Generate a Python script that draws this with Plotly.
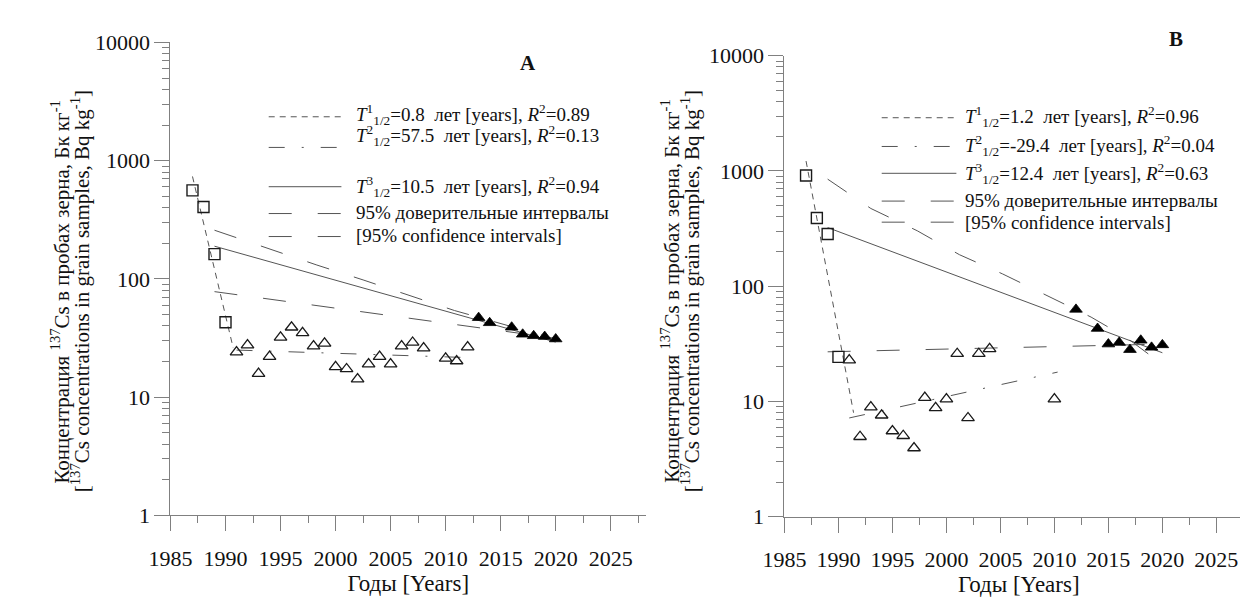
import plotly.graph_objects as go

W, H = 1248, 597

# ---------------- Panel A data ----------------
sq_years_A = [1987, 1988, 1989, 1990]
sq_vals_A = [560, 405, 162, 43]
open_years_A = [1991, 1992, 1993, 1994, 1995, 1996, 1997, 1998, 1999, 2000, 2001,
                2002, 2003, 2004, 2005, 2006, 2007, 2008, 2010, 2011, 2012]
open_vals_A = [24, 27.5, 15.8, 22, 32, 39, 35, 27, 28.5, 18, 17.3,
               14.2, 19, 22, 19, 27, 29, 26, 21.3, 20.2, 26.5]
filled_years_A = [2013, 2014, 2016, 2017, 2018, 2019, 2020]
filled_vals_A = [47, 42.5, 39, 34, 33, 32.5, 31]

t1_years_A = [1987, 1990.7]
t1_vals_A = [735, 26]
t2_years_A = [1991, 2012]
t2_vals_A = [25, 21.6]
t3_years_A = [1989, 2020]
t3_vals_A = [189, 29.2]
ciu_years_A = [1989, 1994.1, 1998.3, 2002.5, 2006.6, 2010.8, 2020]
ciu_vals_A = [258, 177, 131, 98, 73, 54, 31]
cil_years_A = [1989, 2020]
cil_vals_A = [78, 31.5]

# ---------------- Panel B data ----------------
sq_years_B = [1987, 1988, 1989, 1990]
sq_vals_B = [914, 391, 284, 24.4]
open_years_B = [1991, 1992, 1993, 1994, 1995, 1996, 1997, 1998, 1999, 2000,
                2001, 2002, 2003, 2004, 2010]
open_vals_B = [22.9, 4.95, 8.95, 7.6, 5.55, 5.05, 3.95, 10.8, 8.8, 10.5,
               26, 7.2, 26, 28.6, 10.5]
filled_years_B = [2012, 2014, 2015, 2016, 2017, 2018, 2019, 2020]
filled_vals_B = [63, 43, 31.5, 32.5, 28.2, 34, 29.5, 31]

t1_years_B = [1987, 1991.4]
t1_vals_B = [1220, 8.0]
t2_years_B = [1991, 2010.3]
t2_vals_B = [7.2, 18]
t3_years_B = [1989, 2020]
t3_vals_B = [323, 26.5]
ciu_years_B = [1989, 1993, 1997.3, 2001.2, 2005.2, 2009.1, 2013.4, 2016.7, 2020]
ciu_vals_B = [850, 473, 303, 188, 128, 84.6, 54, 35.7, 21]
cil_years_B = [1989, 2020]
cil_vals_B = [27, 31.5]

# ---------------- texts ----------------
y_ticks = [1, 10, 100, 1000, 10000]
y_ticktext = ["1", "10", "100", "1000", "10000"]
x_title = "Годы [Years]"
y_title_1 = "Концентрация <sup>137</sup>Cs в пробах зерна, Бк кг<sup>-1</sup>"
y_title_2 = "[<sup>137</sup>Cs concentrations in grain samples, Bq kg<sup>-1</sup>]"
legend_A = [
    "<i>T</i><sup>1</sup><sub>1/2</sub>=0.8  лет [years], <i>R</i><sup>2</sup>=0.89",
    "<i>T</i><sup>2</sup><sub>1/2</sub>=57.5  лет [years], <i>R</i><sup>2</sup>=0.13",
    "<i>T</i><sup>3</sup><sub>1/2</sub>=10.5  лет [years], <i>R</i><sup>2</sup>=0.94",
    "95% доверительные интервалы",
    "[95% confidence intervals]",
]
legend_B = [
    "<i>T</i><sup>1</sup><sub>1/2</sub>=1.2  лет [years], <i>R</i><sup>2</sup>=0.96",
    "<i>T</i><sup>2</sup><sub>1/2</sub>=-29.4  лет [years], <i>R</i><sup>2</sup>=0.04",
    "<i>T</i><sup>3</sup><sub>1/2</sub>=12.4  лет [years], <i>R</i><sup>2</sup>=0.63",
    "95% доверительные интервалы",
    "[95% confidence intervals]",
]

SERIF = "Liberation Serif"
LINE_C = "#555555"
MARK_C = "#1a1a1a"
AX_C = "#808080"
TXT_C = "#111111"
DASH_T1 = "6px,5px"
DASH_T2 = "16px,17px,2px,17px"
DASH_CI = "23px,26px"


def px(x):
    return x / W


def py(y):
    return 1 - y / H


fig = go.Figure()


def add_panel(xa, ya, t1, t2, t3, ciu, cil, sq, op, fi):
    for (xs, ys), dash in [(t1, DASH_T1), (t2, DASH_T2), (t3, "solid"),
                           (ciu, DASH_CI), (cil, DASH_CI)]:
        fig.add_trace(go.Scatter(x=xs, y=ys, mode="lines", xaxis=xa, yaxis=ya,
                                 line=dict(color=LINE_C, width=1, dash=dash),
                                 showlegend=False, hoverinfo="skip"))
    fig.add_trace(go.Scatter(x=sq[0], y=sq[1], mode="markers", xaxis=xa, yaxis=ya,
                             marker=dict(symbol="square-open", size=11, color=MARK_C,
                                         line=dict(width=1.4, color=MARK_C)),
                             showlegend=False))
    fig.add_trace(go.Scatter(x=op[0], y=op[1], mode="markers", xaxis=xa, yaxis=ya,
                             marker=dict(symbol="triangle-up-open", size=11, color=MARK_C,
                                         line=dict(width=1.3, color=MARK_C)),
                             showlegend=False))
    fig.add_trace(go.Scatter(x=fi[0], y=fi[1], mode="markers", xaxis=xa, yaxis=ya,
                             marker=dict(symbol="triangle-up", size=11, color="#000000",
                                         line=dict(width=0.8, color="#000000")),
                             showlegend=False))


add_panel("x", "y", (t1_years_A, t1_vals_A), (t2_years_A, t2_vals_A),
          (t3_years_A, t3_vals_A), (ciu_years_A, ciu_vals_A), (cil_years_A, cil_vals_A),
          (sq_years_A, sq_vals_A), (open_years_A, open_vals_A),
          (filled_years_A, filled_vals_A))
add_panel("x2", "y2", (t1_years_B, t1_vals_B), (t2_years_B, t2_vals_B),
          (t3_years_B, t3_vals_B), (ciu_years_B, ciu_vals_B), (cil_years_B, cil_vals_B),
          (sq_years_B, sq_vals_B), (open_years_B, open_vals_B),
          (filled_years_B, filled_vals_B))

minor_y = [m * 10 ** e for e in range(4) for m in range(2, 10)]


def xaxis_cfg(dom, rng, anchor):
    return dict(domain=dom, range=rng, anchor=anchor, showline=True, linecolor=AX_C,
                linewidth=1, showgrid=False, zeroline=False, tickmode="linear",
                tick0=1985, dtick=5, ticks="outside", ticklen=15, tickwidth=1,
                tickcolor=AX_C, ticklabelstandoff=8,
                minor=dict(ticks="outside", ticklen=7, tickwidth=1, tickcolor=AX_C,
                           tickmode="linear", tick0=1985, dtick=2.5, showgrid=False),
                tickfont=dict(family=SERIF, size=22, color=TXT_C),
                title=dict(text=x_title, font=dict(family=SERIF, size=23, color=TXT_C),
                           standoff=2))


def yaxis_cfg(dom, anchor):
    return dict(domain=dom, type="log", range=[0, 4], anchor=anchor, showline=True,
                linecolor=AX_C, linewidth=1, showgrid=False, zeroline=False,
                tickmode="array", tickvals=y_ticks, ticktext=y_ticktext,
                ticks="outside", ticklen=15, tickwidth=1, tickcolor=AX_C,
                minor=dict(ticks="outside", ticklen=7, tickwidth=1, tickcolor=AX_C,
                           tickmode="array", tickvals=minor_y, showgrid=False),
                tickfont=dict(family=SERIF, size=22, color=TXT_C))


fig.update_layout(
    width=W, height=H, margin=dict(l=0, r=0, t=0, b=0),
    paper_bgcolor="white", plot_bgcolor="white", showlegend=False,
    font=dict(family=SERIF, color=TXT_C),
    xaxis=xaxis_cfg([px(143), px(627)], [1985, 2028.2], "y"),
    yaxis=yaxis_cfg([py(517), py(23.4)], "x"),
    xaxis2=xaxis_cfg([px(768), px(1245)], [1985, 2028.4], "y2"),
    yaxis2=yaxis_cfg([py(518.5), py(37.3)], "x2"),
)

ann = []
shapes = []
# y-axis titles (two lines each)
for cx1, cx2, cy in [(31, 51, 283), (652, 672, 283)]:
    ann.append(dict(text=y_title_1, x=px(cx1), y=py(cy), xref="paper", yref="paper",
                    textangle=-90, showarrow=False, xanchor="center", yanchor="middle",
                    font=dict(family=SERIF, size=21, color=TXT_C)))
    ann.append(dict(text=y_title_2, x=px(cx2), y=py(cy), xref="paper", yref="paper",
                    textangle=-90, showarrow=False, xanchor="center", yanchor="middle",
                    font=dict(family=SERIF, size=21, color=TXT_C)))
# panel letters
for txt, x, y in [("A", 507, 45), ("B", 1167, 20)]:
    ann.append(dict(text="<b>%s</b>" % txt, x=px(x), y=py(y), xref="paper", yref="paper",
                    showarrow=False, xanchor="center", yanchor="middle",
                    font=dict(family=SERIF, size=21, color=TXT_C)))

# legends (text rows + sample lines)
legend_specs = [
    (legend_A, 243, 317, 330, [99, 121, 174, 201, 225], [101, 133, 174, 202, 226]),
    (legend_B, 867, 943, 950, [101, 131, 160, 188, 211], [102, 132, 160, 189, 211]),
]
dashes = [DASH_T1, DASH_T2, "solid", DASH_CI, DASH_CI]
for texts, x0, x1, tx, ty, ly in legend_specs:
    for t, yt, yl, d in zip(texts, ty, ly, dashes):
        ann.append(dict(text=t, x=px(tx), y=py(yt), xref="paper", yref="paper",
                        showarrow=False, xanchor="left", yanchor="middle",
                        font=dict(family=SERIF, size=19, color=TXT_C)))
        shapes.append(dict(type="line", xref="paper", yref="paper",
                           x0=px(x0), x1=px(x1), y0=py(yl), y1=py(yl),
                           line=dict(color=LINE_C, width=1, dash=d)))

fig.update_layout(annotations=ann, shapes=shapes)
fig.write_html("out.html")
